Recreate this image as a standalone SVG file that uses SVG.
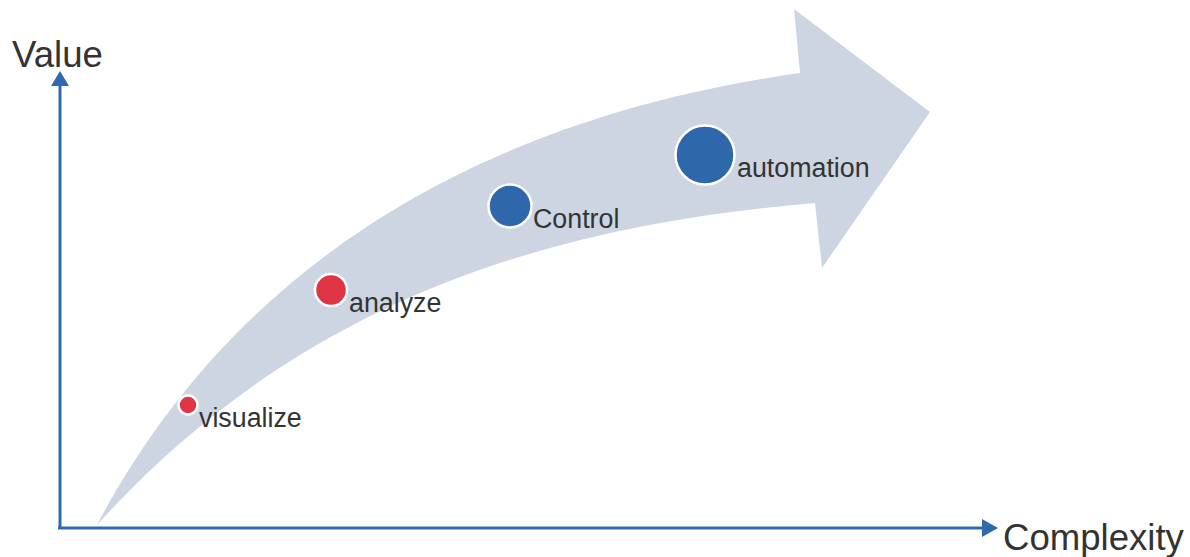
<svg xmlns="http://www.w3.org/2000/svg" width="1190" height="557" viewBox="0 0 1190 557">
<style>
.lbl{font-family:"Liberation Sans",Arial,sans-serif;fill:#333333;font-size:26.8px}
.ax{font-family:"Liberation Sans",Arial,sans-serif;fill:#333333;font-size:36.6px}
.axis{stroke:#2F6AAF;stroke-width:3;fill:none}
.red{fill:#E03444;stroke:#ffffff;stroke-width:2.5}
.blue{fill:#2E67AA;stroke:#ffffff;stroke-width:2.5}
</style>
<rect width="1190" height="557" fill="#ffffff"/>
<g id="growth-arrow">
<path d="M97,525 C200,330 400,130 800,73 L794,9 L930,112 L822,268 L815,203 C550,225 300,300 97,525 Z" fill="#CDD5E2"/>
</g>
<g id="connectors">
<line class="axis" x1="60" y1="529" x2="60" y2="84"/>
<path d="M51,86 L60,71 L69,86 Z" fill="#2F6AAF"/>
<line class="axis" x1="58" y1="528" x2="984" y2="528"/>
<path d="M982,519 L998,528 L982,537 Z" fill="#2F6AAF"/>
</g>
<g id="axis-value"><text class="ax" x="12" y="67">Value</text></g>
<g id="axis-complexity"><text class="ax" x="1003" y="550">Complexity</text></g>
<g id="visualize">
<circle class="red" cx="188" cy="405" r="9.5"/>
<text class="lbl" x="199" y="427">visualize</text>
</g>
<g id="analyze">
<circle class="red" cx="331" cy="290" r="16"/>
<text class="lbl" x="349" y="312">analyze</text>
</g>
<g id="control">
<circle class="blue" cx="510" cy="206" r="21.5"/>
<text class="lbl" x="533" y="228">Control</text>
</g>
<g id="automation">
<circle class="blue" cx="705" cy="155" r="29.5"/>
<text class="lbl" x="737" y="177">automation</text>
</g>
</svg>
